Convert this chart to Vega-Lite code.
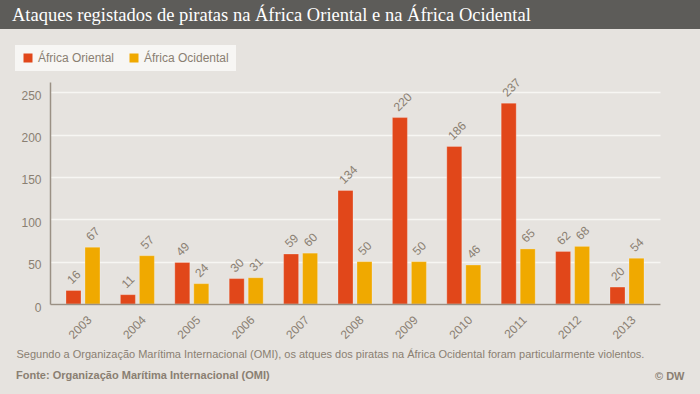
{
  "$schema": "https://vega.github.io/schema/vega-lite/v6.json",
  "background": "#e6e3df",
  "padding": 0,
  "spacing": 0,
  "config": {
    "view": {"stroke": null},
    "font": "Liberation Sans"
  },
  "vconcat": [
    {
      "width": 700,
      "height": 29,
      "view": {"fill": "#5d5c59", "stroke": null},
      "data": {"values": []},
      "mark": "point",
      "title": {
        "text": "Ataques registados de piratas na África Oriental e na África Ocidental",
        "orient": "bottom",
        "anchor": "start",
        "frame": "group",
        "offset": -8,
        "dx": 12,
        "baseline": "alphabetic",
        "font": "Liberation Serif",
        "fontSize": 18.5,
        "fontWeight": "normal",
        "color": "#ffffff"
      }
    },
    {
      "width": 700,
      "height": 365,
      "title": {
        "text": "Fonte: Organização Marítima Internacional (OMI)",
        "orient": "bottom",
        "anchor": "start",
        "frame": "group",
        "offset": -15,
        "dx": 16,
        "baseline": "alphabetic",
        "font": "Liberation Sans",
        "fontSize": 11,
        "fontWeight": "bold",
        "color": "#8a7f72"
      },
      "data": {
        "values": [
          {"year": "2003", "series": "África Oriental", "value": 16},
          {"year": "2003", "series": "África Ocidental", "value": 67},
          {"year": "2004", "series": "África Oriental", "value": 11},
          {"year": "2004", "series": "África Ocidental", "value": 57},
          {"year": "2005", "series": "África Oriental", "value": 49},
          {"year": "2005", "series": "África Ocidental", "value": 24},
          {"year": "2006", "series": "África Oriental", "value": 30},
          {"year": "2006", "series": "África Ocidental", "value": 31},
          {"year": "2007", "series": "África Oriental", "value": 59},
          {"year": "2007", "series": "África Ocidental", "value": 60},
          {"year": "2008", "series": "África Oriental", "value": 134},
          {"year": "2008", "series": "África Ocidental", "value": 50},
          {"year": "2009", "series": "África Oriental", "value": 220},
          {"year": "2009", "series": "África Ocidental", "value": 50},
          {"year": "2010", "series": "África Oriental", "value": 186},
          {"year": "2010", "series": "África Ocidental", "value": 46},
          {"year": "2011", "series": "África Oriental", "value": 237},
          {"year": "2011", "series": "África Ocidental", "value": 65},
          {"year": "2012", "series": "África Oriental", "value": 62},
          {"year": "2012", "series": "África Ocidental", "value": 68},
          {"year": "2013", "series": "África Oriental", "value": 20},
          {"year": "2013", "series": "África Ocidental", "value": 54}
        ]
      },
      "encoding": {
        "x": {
          "field": "year",
          "type": "ordinal",
          "scale": {"range": [50, 660], "paddingInner": 0.375, "paddingOuter": 0.294},
          "axis": {
            "title": "Segundo a Organização Marítima Internacional (OMI), os atques dos piratas na África Ocidental foram particularmente violentos.",
            "titleAnchor": "start",
            "titleAlign": "left",
            "titleBaseline": "alphabetic",
            "titleX": 16,
            "titleY": 53,
            "titleFontSize": 11,
            "titleFontWeight": "normal",
            "titleColor": "#8a7f72",
            "offset": -90,
            "zindex": 1,
            "labelAngle": -45,
            "labelPadding": 10,
            "labelOffset": 3,
            "labelFontSize": 12,
            "labelColor": "#8a7f72",
            "ticks": false,
            "domainColor": "#9a9084",
            "domainWidth": 1.5
          }
        },
        "xOffset": {
          "field": "series",
          "type": "nominal",
          "sort": ["África Oriental", "África Ocidental"],
          "scale": {"paddingInner": 0.21, "paddingOuter": 0}
        },
        "y": {
          "field": "value",
          "type": "quantitative",
          "scale": {"domain": [0, 262], "range": [275, 53], "nice": false, "zero": true},
          "axis": {
            "values": [0, 50, 100, 150, 200, 250],
            "offset": -50,
            "ticks": false,
            "labelPadding": 9,
            "labelOffset": 3,
            "labelFontSize": 12,
            "labelColor": "#8a7f72",
            "grid": true,
            "gridColor": "#f7f6f3",
            "gridWidth": 1.5,
            "domainColor": "#9a9084",
            "domainWidth": 1.5,
            "title": "© DW",
            "titleAngle": 0,
            "titleAlign": "right",
            "titleBaseline": "alphabetic",
            "titleX": 634,
            "titleY": 350,
            "titleFontSize": 11,
            "titleFontWeight": "bold",
            "titleColor": "#8a7f72"
          }
        }
      },
      "layer": [
        {
          "mark": {"type": "bar", "stroke": "#ffffff", "strokeOpacity": 0.25, "strokeWidth": 1},
          "encoding": {
            "color": {
              "field": "series",
              "type": "nominal",
              "sort": ["África Oriental", "África Ocidental"],
              "scale": {"domain": ["África Oriental", "África Ocidental"], "range": ["#e1471a", "#f0a900"]},
              "legend": {
                "title": null,
                "orient": "none",
                "legendX": 15,
                "legendY": 45,
                "direction": "horizontal",
                "fillColor": "#f7f6f4",
                "padding": 7,
                "symbolType": "square",
                "symbolSize": 81,
                "symbolStrokeWidth": 0,
                "symbolOpacity": 1,
                "labelFontSize": 12,
                "labelColor": "#8a7f72",
                "labelOffset": 4,
                "columnPadding": 13
              }
            }
          }
        },
        {
          "mark": {"type": "text", "align": "left", "baseline": "middle", "angle": 315, "dx": 3, "dy": -9, "fontSize": 12, "color": "#8a7f72"},
          "encoding": {"text": {"field": "value", "type": "quantitative"}}
        }
      ]
    }
  ]
}
